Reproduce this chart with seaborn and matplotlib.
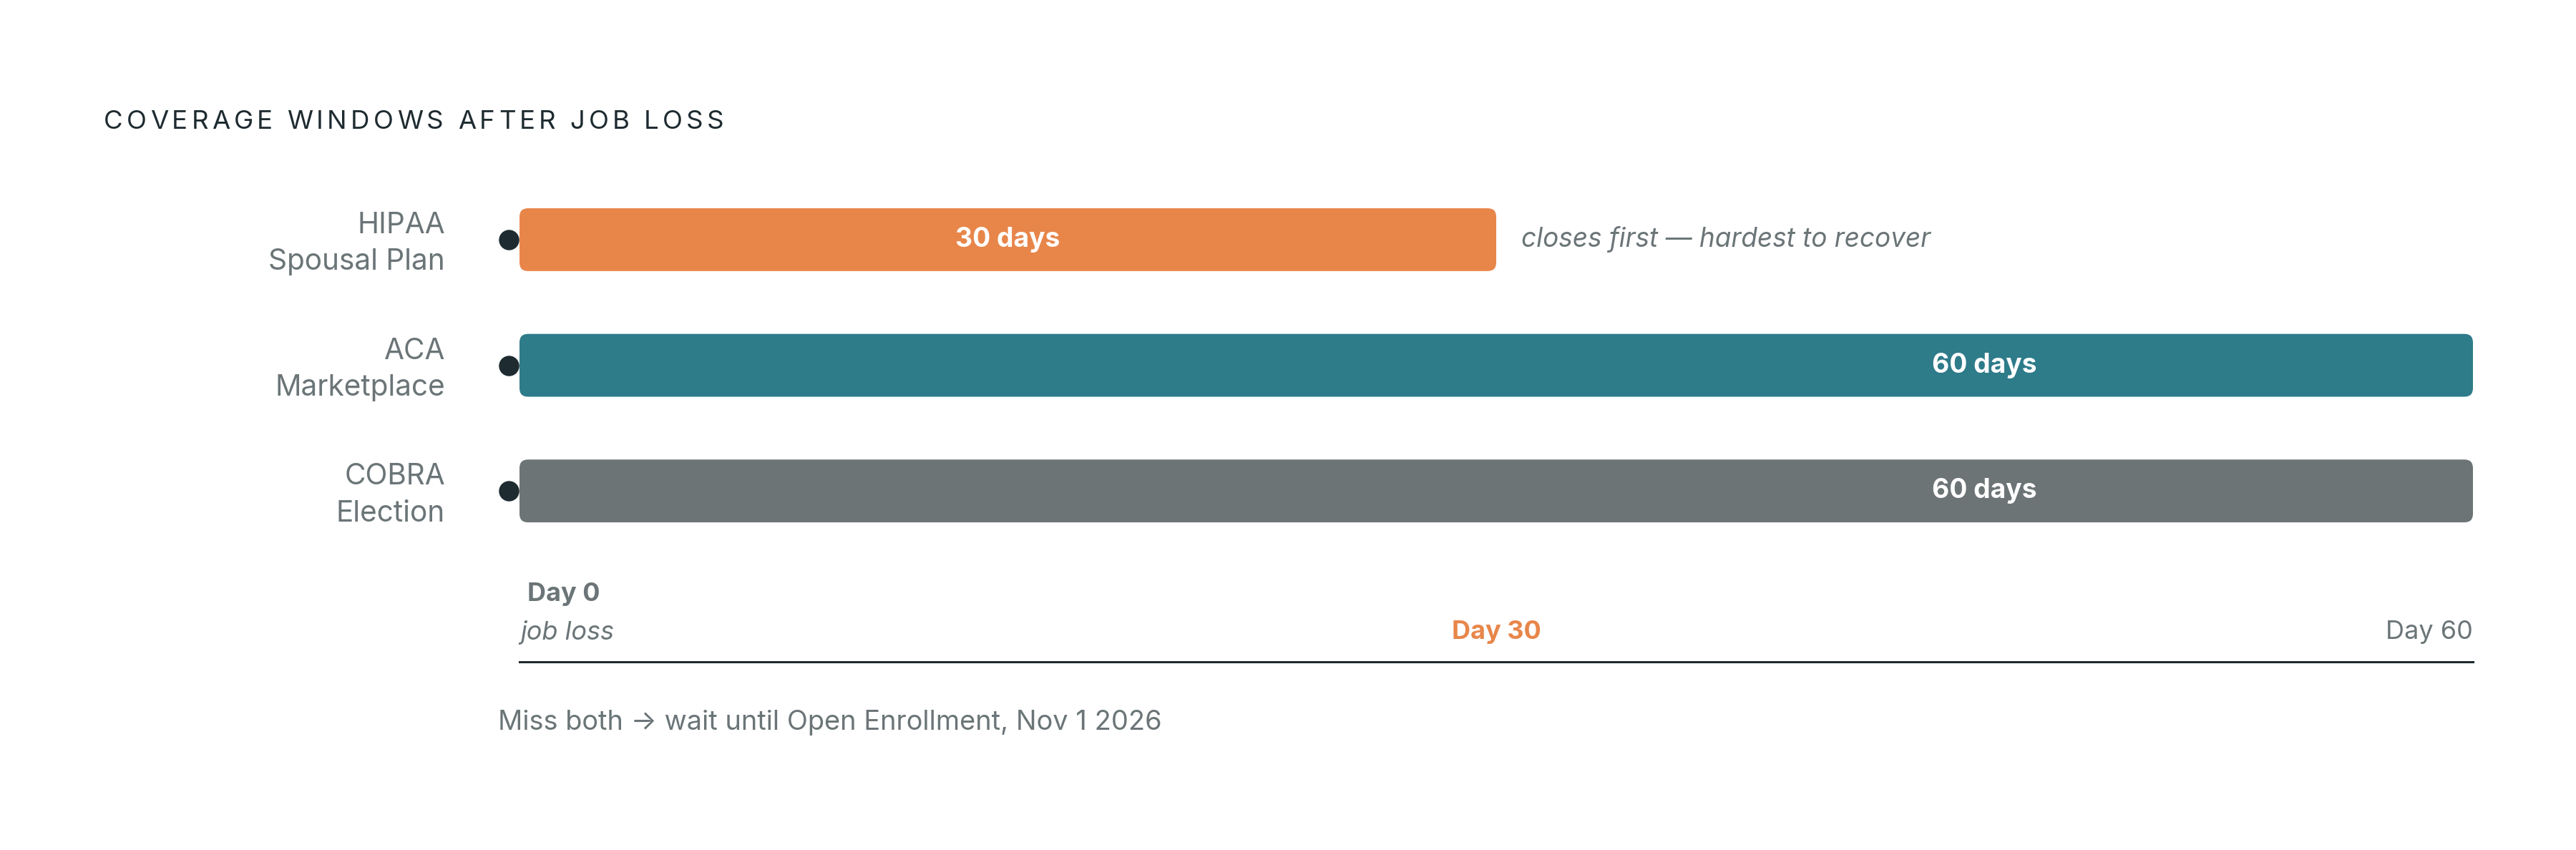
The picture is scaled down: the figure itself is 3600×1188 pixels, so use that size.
import matplotlib
matplotlib.use("Agg")
import matplotlib.pyplot as plt
import matplotlib.transforms as mtransforms
from matplotlib.patches import FancyBboxPatch
import seaborn as sns
import pandas as pd

# data
programs = ["HIPAA\nSpousal Plan", "ACA\nMarketplace", "COBRA\nElection"]
window_days = [30, 60, 60]
bar_labels = ["30 days", "60 days", "60 days"]
bar_colors = ["#E8864A", "#2E7B8A", "#6C7476"]
note_text = "closes first — hardest to recover"
title = "COVERAGE WINDOWS AFTER JOB LOSS"
footer = "Miss both → wait until Open Enrollment, Nov 1 2026"
start_day = 0
mid_day = 30
end_day = 60

DARK = "#1E2B31"
GREY = "#6B7578"
FONT = ["Inter", "DejaVu Sans"]

sns.set_theme(style="white")
plt.rcParams["font.family"] = FONT

W, H, DPI = 3600, 1188, 200
fig = plt.figure(figsize=(W / DPI, H / DPI), dpi=DPI)
fig.patch.set_facecolor("white")
ax = fig.add_axes([726 / W, 1 - 925 / H, (3456 - 726) / W, (925 - 250) / H])

df = pd.DataFrame({"program": programs, "days": window_days})
sns.barplot(data=df, x="days", y="program", hue="program", palette=bar_colors,
            saturation=1, width=0.5, orient="h", legend=False, ax=ax, zorder=2)

ax.set_xlim(start_day, end_day)
ax.set_ylim(3.36, -0.484)

# rounded bars
px_per_x = (3456 - 726) / (end_day - start_day)
px_per_y = (925 - 250) / (3.36 + 0.484)
r = 12 / px_per_x
asp = (12 / px_per_y) / r
for p in list(ax.patches):
    x0, y0, w, h = p.get_x(), p.get_y(), p.get_width(), p.get_height()
    fc = p.get_facecolor()
    p.remove()
    ax.add_patch(FancyBboxPatch((x0, y0), w, h,
                                boxstyle=f"round,pad=0,rounding_size={r}",
                                mutation_aspect=asp, fc=fc, ec="none", zorder=2))

# start dots
dot_tr = mtransforms.offset_copy(ax.transData, fig=fig, x=-15, y=0, units="dots")
ax.scatter([start_day] * len(programs), range(len(programs)), s=105, color=DARK,
           transform=dot_tr, zorder=1, clip_on=False, linewidths=0)

# labels in bars
for i, (d, lab) in enumerate(zip(window_days, bar_labels)):
    ax.text(d - 15, i, lab, ha="center", va="center", color="white",
            fontsize=13.4, fontweight="bold", zorder=3)

ax.annotate(note_text, xy=(window_days[0], 0), xytext=(12.6, 0),
            textcoords="offset points", ha="left", va="center",
            color=GREY, fontsize=13.3, fontstyle="italic")

# y labels
ax.set_yticks(range(len(programs)))
ax.set_yticklabels(programs, linespacing=1.45)
ax.tick_params(axis="y", length=0, pad=37.4, labelsize=14.6, labelcolor=GREY)
lift = mtransforms.ScaledTranslation(0, 5 / DPI, fig.dpi_scale_trans)
for t in ax.get_yticklabels():
    t.set_transform(t.get_transform() + lift)
ax.set_ylabel("")
ax.set_xlabel("")
ax.set_xticks([])

for s in ["top", "left", "right"]:
    ax.spines[s].set_visible(False)
ax.spines["bottom"].set_color(DARK)
ax.spines["bottom"].set_linewidth(1.1)

# day markers above the axis line
bt = ax.get_xaxis_transform()
ax.annotate("Day 0", xy=(start_day, 0), xycoords=bt, xytext=(4, 34),
            textcoords="offset points", ha="left", va="center",
            color=GREY, fontsize=13, fontweight="bold")
ax.annotate("job loss", xy=(start_day, 0), xycoords=bt, xytext=(0.5, 14.8),
            textcoords="offset points", ha="left", va="center",
            color=GREY, fontsize=13, fontstyle="italic")
ax.annotate(f"Day {mid_day}", xy=(mid_day, 0), xycoords=bt, xytext=(0, 14.8),
            textcoords="offset points", ha="center", va="center",
            color=bar_colors[0], fontsize=13, fontweight="bold")
ax.annotate(f"Day {end_day}", xy=(end_day, 0), xycoords=bt, xytext=(0, 14.8),
            textcoords="offset points", ha="right", va="center",
            color=GREY, fontsize=13)

ax.annotate(footer, xy=(0, 0), xycoords="axes fraction", xytext=(-10.8, -30.6),
            textcoords="offset points", ha="left", va="center",
            color=GREY, fontsize=13.7)

# letter-spaced title
fig.canvas.draw()
rend = fig.canvas.get_renderer()
x = 145
title_size = 13.2
em = title_size / 72 * DPI
for ch in title:
    t = fig.text(x / W, 1 - 170 / H, ch, ha="left", va="center",
                 color=DARK, fontsize=title_size)
    w = em * 0.27 if ch == " " else t.get_window_extent(rend).width
    x += w + em * 0.14

fig.savefig("out.png", dpi=DPI, facecolor="white")
